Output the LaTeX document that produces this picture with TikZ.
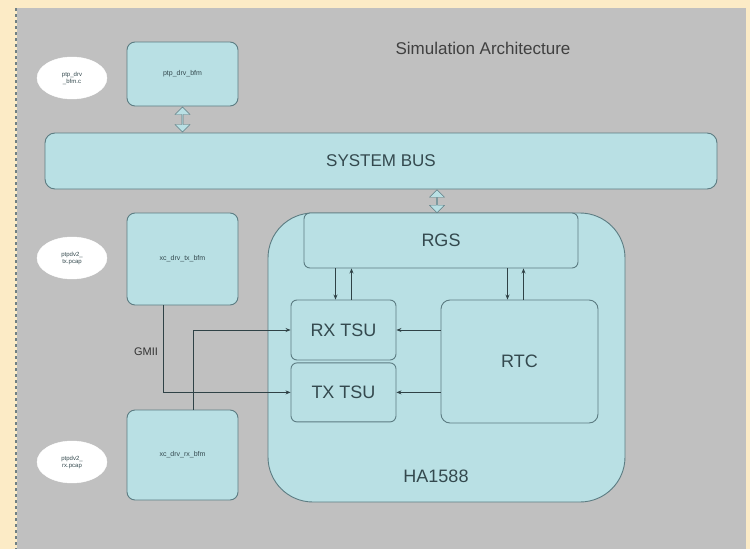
\documentclass[tikz,border=0pt]{standalone}
\usepackage{fontspec}
\setmainfont{Liberation Sans}
\usetikzlibrary{arrows.meta,positioning,shapes.geometric,shapes.arrows,calc}
\definecolor{cream}{HTML}{FCEBC6}
\definecolor{sheet}{HTML}{C0C0C0}
\definecolor{boxfill}{HTML}{B9E0E4}
\definecolor{boxline}{HTML}{5C7C82}
\definecolor{ink}{HTML}{34494E}

\begin{document}
\begin{tikzpicture}[
  x=1pt, y=-1pt,
  box/.style={draw=boxline, rounded corners=8pt, fill=boxfill, align=center,
    text=ink, inner sep=0pt, line width=0.9pt},
  bfm/.style={box, minimum width=111pt, font=\fontsize{7}{8}\selectfont},
  unit/.style={box, rounded corners=6pt, font=\fontsize{18}{20}\selectfont},
  file/.style={draw=white, ellipse, fill=white, minimum width=70pt,
    minimum height=42pt, inner sep=0pt, align=center, text=ink,
    font=\fontsize{6}{7}\selectfont},
  busarrow/.style={double arrow, shape border rotate=90, draw=boxline,
    fill=boxfill, minimum width=15pt, minimum height=25pt, inner sep=0pt,
    double arrow head extend=2pt},
  sig/.style={-{Stealth[length=5pt,width=4pt]}, draw=ink!90!black, line width=0.7pt}
]
\fill[cream] (0,0) rectangle (750,549);
\useasboundingbox (0,0) rectangle (750,549);
\fill[sheet] (17,8) rectangle (746,549);
\draw[ink!70, dashed, line width=1.5pt] (16,8) -- (16,549);

\node[text=black!75, font=\fontsize{17}{19}\selectfont] (title) at (483,48) {Simulation Architecture};

% left column
\node[file] (drvc) at (72,78) {ptp\_drv\\\_bfm.c};
\node[bfm, minimum height=64pt] (ptpbfm) at (182.5,74) {ptp\_drv\_bfm};
\node[file] (txpcap) at (72,258) {ptpdv2\_\\tx.pcap};
\node[bfm, minimum height=92pt] (txbfm) at (182.5,259) {xc\_drv\_tx\_bfm};
\node[file] (rxpcap) at (72,462) {ptpdv2\_\\rx.pcap};
\node[bfm, minimum height=90pt] (rxbfm) at (182.5,455) {xc\_drv\_rx\_bfm};

\node[box, rounded corners=10pt, minimum width=672pt, minimum height=56pt,
  font=\fontsize{17}{19}\selectfont] (sysbus) at (381,161) {SYSTEM BUS};

% HA1588 core
\node[box, rounded corners=45pt, minimum width=357pt, minimum height=289pt] (ha) at (446.5,357.5) {};
\node[text=ink, font=\fontsize{18}{20}\selectfont] (halabel) at (436,476) {HA1588};
\node[unit, minimum width=274pt, minimum height=55pt] (rgs) at (441,240.5) {RGS};
\node[unit, minimum width=105pt, minimum height=60pt] (rxtsu) at (343.5,330) {RX TSU};
\node[unit, minimum width=105pt, minimum height=59pt, below=2pt of rxtsu] (txtsu) {TX TSU};
\node[unit, minimum width=157pt, minimum height=123pt, rounded corners=9pt] (rtc) at (519.5,361.5) {RTC};

\node[busarrow] (toparrow) at ($(ptpbfm.south)!0.5!(ptpbfm.south |- sysbus.north)$) {};
\node[busarrow, minimum height=23pt] (haarrow) at ($(sysbus.south -| 437,0)!0.5!(437,213)$) {};

\draw[sig] ([xshift=-8pt]rxtsu.north |- rgs.south) -- ([xshift=-8pt]rxtsu.north);
\draw[sig] ([xshift=8pt]rxtsu.north) -- ([xshift=8pt]rxtsu.north |- rgs.south);
\draw[sig] ([xshift=-12pt]rtc.north |- rgs.south) -- ([xshift=-12pt]rtc.north);
\draw[sig] ([xshift=4pt]rtc.north) -- ([xshift=4pt]rtc.north |- rgs.south);
\draw[sig] (rtc.west |- rxtsu) -- (rxtsu.east);
\draw[sig] (rtc.west |- txtsu) -- (txtsu.east);

\draw[sig] ([xshift=-19.5pt]txbfm.south) |- (txtsu.west);
\draw[sig] ([xshift=10.5pt]rxbfm.north) |- (rxtsu.west);
\node[text=black!80, font=\fontsize{11}{12}\selectfont] (gmii) at (146,352) {GMII};
\end{tikzpicture}
\end{document}
